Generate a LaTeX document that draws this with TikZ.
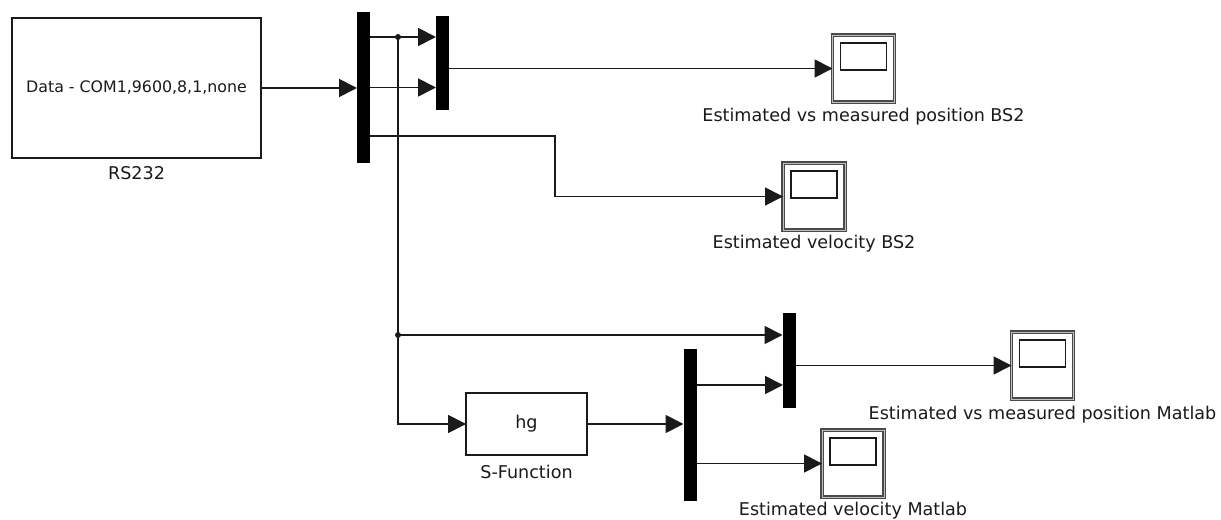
\documentclass[tikz,border=0pt]{standalone}
\usepackage{fontspec}
\setsansfont{DejaVu Sans}
\usetikzlibrary{arrows.meta, positioning}
\definecolor{SLink}{HTML}{1A1A1A}
\definecolor{SLgray}{HTML}{4A4A4A}
\tikzset{
  slblk/.style={
    rectangle, draw=SLink, line width=1.1pt, fill=white, text=SLink,
    inner sep=0pt, outer sep=0pt, font=\sffamily\fontsize{9}{10}\selectfont},
  slbar/.style={rectangle, fill=black, inner sep=0pt, outer sep=0pt,
    minimum width=0.26cm},
  slscope/.style={
    rectangle, draw=SLgray, double=white!75!black, double distance=0.5pt, line width=0.7pt,
    minimum width=1.24cm, minimum height=1.34cm, inner sep=0pt, outer sep=0pt,
    path picture={\draw[SLink, line width=0.9pt]
      ([shift={(0.16cm,-0.16cm)}]path picture bounding box.north west) rectangle
      ([shift={(-0.16cm,-0.70cm)}]path picture bounding box.north east);}},
  sllbl/.style={inner sep=0pt, text=SLink, font=\sffamily\fontsize{10}{12}\selectfont},
  slsig/.style={-{Triangle[length=0.36cm,width=0.36cm]}, line width=1pt, draw=SLink},
  slwire/.style={line width=1pt, draw=SLink},
  sldot/.style={circle, fill=SLink, inner sep=0pt, minimum size=0.12cm},
}

\begin{document}
\begin{tikzpicture}[x=0.02cm, y=-0.02cm]
  \useasboundingbox (0,0) rectangle (1221,520);
  %% Serial input block
  \node[slblk, minimum width=4.98cm, minimum height=2.8cm] (rs) at (136.5,88)
        {Data - COM1,9600,8,1,none};
  \node[sllbl, below=0.17cm of rs] (rslbl) {RS232};
  %% Demux / Mux bars
  \node[slbar, minimum height=3.02cm] (dmx1) at (363.5,87.5) {};
  \node[slbar, minimum height=1.88cm] (mux1) at (442.5,63) {};
  \node[slbar, minimum height=1.90cm] (mux3) at (789,360.5) {};
  \node[slbar, minimum height=3.04cm] (dmx2) at (690,425) {};
  %% S-Function block
  \node[slblk, minimum width=2.42cm, minimum height=1.24cm,
        font=\sffamily\fontsize{10}{12}\selectfont] (sfun) at (526.5,424) {hg};
  \node[sllbl, below=0.2cm of sfun] (sflbl) {S-Function};
  %% Scopes
  \node[slscope] (sc1) at (863.5,68.5) {};
  \node[sllbl, below=0.12cm of sc1] (sc1lbl) {Estimated vs measured position BS2};
  \node[slscope] (sc2) at (814,196.5) {};
  \node[sllbl, below=0.1cm of sc2] (sc2lbl) {Estimated velocity BS2};
  \node[slscope] (sc3) at (1042.5,365.5) {};
  \node[sllbl, below=0.14cm of sc3] (sc3lbl) {Estimated vs measured position Matlab};
  \node[slscope] (sc4) at (853,463.5) {};
  \node[sllbl, below=0.1cm of sc4] (sc4lbl) {Estimated velocity Matlab};
  %% Branch points
  \coordinate (j1) at (398,37);
  \coordinate (j2) at (398,335);
  \coordinate (b1) at (555,136);
  \coordinate (m3lo) at (783,385);
  %% Signals
  \draw[slsig] (rs.east) -- (rs.east -| dmx1.west);
  \draw[slsig] (dmx1.east |- j1) -- (j1 -| mux1.west);
  \draw[slsig] (dmx1.east) -- (dmx1.east -| mux1.west);
  \draw[slsig] (mux1.east |- sc1.west) -- (sc1.west);
  \draw[slsig] (dmx1.east |- b1) -- (b1) |- (sc2.west);
  \draw[slwire] (j1) -- (j2);
  \draw[slsig] (j2) |- (sfun.west);
  \draw[slsig] (j2) -- (j2 -| mux3.west);
  \draw[slsig] (sfun.east) -- (sfun.east -| dmx2.west);
  \draw[slsig] (dmx2.east |- m3lo) -- (m3lo);
  \draw[slsig] (mux3.east |- sc3.west) -- (sc3.west);
  \draw[slsig] (dmx2.east |- sc4.west) -- (sc4.west);
  \node[sldot] (d1) at (j1) {};
  \node[sldot] (d2) at (j2) {};
\end{tikzpicture}
\end{document}
